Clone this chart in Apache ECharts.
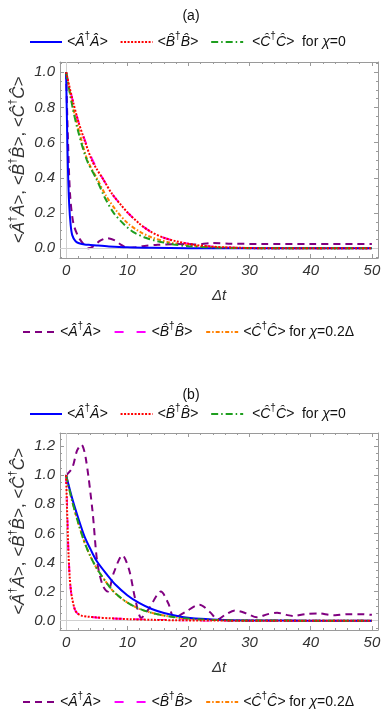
<!DOCTYPE html>
<html>
<head>
<meta charset="utf-8">
<script src="https://cdn.jsdelivr.net/npm/echarts@6/dist/echarts.min.js"></script>
<style>
  html, body { margin: 0; padding: 0; background: #fff; }
  #chart { width: 382px; height: 720px; }
</style>
</head>
<body>
<div id="chart"></div>
<script>
// ticks
const xMajor = [0, 10, 20, 30, 40, 50];
const xMinor = [2, 4, 6, 8, 12, 14, 16, 18, 22, 24, 26, 28, 32, 34, 36, 38, 42, 44, 46, 48];
const aYMajor = [0, 0.2, 0.4, 0.6, 0.8, 1.0];
const aYMinor = [-0.05, 0.05, 0.1, 0.15, 0.25, 0.3, 0.35, 0.45, 0.5, 0.55, 0.65, 0.7, 0.75, 0.85, 0.9, 0.95, 1.05];
const bYMajor = [0, 0.2, 0.4, 0.6, 0.8, 1.0, 1.2];
const bYMinor = [-0.05, 0.05, 0.1, 0.15, 0.25, 0.3, 0.35, 0.45, 0.5, 0.55, 0.65, 0.7, 0.75, 0.85, 0.9, 0.95, 1.05, 1.1, 1.15, 1.25];

// panel (a), chi = 0
const aA0 = [[0,1],[0.15,0.7],[0.3,0.45],[0.5,0.25],[0.75,0.13],[1,0.075],[1.5,0.042],[2,0.03],[3,0.022],[4,0.019],[5,0.016],[7,0.011],[10,0.006],[14,0.003],[20,0.001],[30,0],[50,0]];
const aB0 = [[0,1],[1,0.85],[2,0.72],[3,0.615],[4.2,0.5],[5,0.45],[6.1,0.39],[7.5,0.31],[9,0.245],[10,0.205],[12,0.14],[13.8,0.095],[16,0.06],[18,0.04],[21,0.02],[24,0.009],[28,0.003],[35,0],[50,0]];
const aC0 = [[0,1],[1,0.81],[2,0.66],[3.4,0.5],[5,0.39],[6.3,0.29],[7.8,0.2],[9.5,0.135],[11,0.092],[13,0.06],[15,0.04],[17.6,0.022],[20,0.012],[24,0.005],[30,0.001],[50,0]];
// panel (a), chi = 0.2 Delta
const aA2 = [[0,1],[0.3,0.62],[0.66,0.3],[1.2,0.14],[2,0.066],[3,0.018],[3.7,0],[4.5,0.012],[5.5,0.042],[6.7,0.058],[8,0.045],[9,0.02],[10,0.002],[11,0.004],[12.5,0.012],[15,0.02],[18,0.024],[21,0.022],[24,0.03],[27,0.026],[32,0.025],[40,0.025],[50,0.025]];
const aB2 = [[0,1],[1,0.85],[2,0.72],[3,0.62],[4.2,0.51],[5,0.455],[6.1,0.39],[7.5,0.31],[9,0.245],[10,0.205],[12,0.14],[13.8,0.095],[16,0.06],[18,0.04],[21,0.02],[24,0.009],[28,0.003],[35,0],[50,0]];
const aC2 = [[0,1],[1,0.82],[2,0.68],[3.5,0.5],[5,0.4],[6.5,0.3],[8.3,0.21],[10,0.145],[12,0.095],[14,0.062],[17,0.033],[20,0.017],[24,0.007],[30,0.002],[50,0]];

// panel (b), chi = 0
const bA0 = [[0,1],[1,0.84],[2.1,0.69],[3,0.58],[4,0.49],[5,0.41],[6.8,0.31],[8,0.25],[10,0.175],[12,0.12],[14,0.08],[16,0.053],[19,0.026],[22,0.013],[26,0.005],[30,0.002],[40,0],[50,0]];
const bB0 = [[0,1],[0.2,0.7],[0.4,0.45],[0.6,0.29],[0.8,0.2],[1,0.15],[1.4,0.08],[1.8,0.052],[2.5,0.035],[3.5,0.028],[5,0.022],[7,0.017],[10.6,0.01],[14,0.006],[18,0.003],[24,0.001],[30,0],[50,0]];
const bC0 = [[0,1],[1,0.82],[2,0.67],[3,0.54],[4,0.44],[5,0.36],[6.8,0.25],[8,0.19],[10,0.125],[12,0.082],[14,0.054],[16,0.035],[19,0.018],[22,0.009],[26,0.003],[30,0.001],[50,0]];
// panel (b), chi = 0.2 Delta
const bA2 = [[0,1],[1,1.05],[1.8,1.17],[2.5,1.21],[3.2,1.12],[4.3,0.76],[5.1,0.4],[6,0.24],[6.8,0.2],[7.8,0.33],[9.2,0.45],[10.3,0.35],[11.3,0.15],[12.3,0.02],[13.5,0.08],[15.5,0.2],[16.7,0.12],[17.7,0.02],[19.5,0.06],[21.8,0.11],[23.5,0.06],[24.8,0.01],[26,0.04],[27.6,0.07],[29.5,0.05],[31.2,0.023],[33,0.045],[34.5,0.055],[36,0.04],[37.2,0.032],[39,0.045],[41.3,0.05],[43,0.04],[44,0.037],[46,0.045],[48,0.045],[50,0.04]];
const bB2 = [[0,1],[0.2,0.7],[0.4,0.45],[0.6,0.29],[0.8,0.2],[1,0.15],[1.4,0.08],[1.8,0.052],[2.5,0.035],[3.5,0.028],[5,0.022],[7,0.017],[10.6,0.01],[14,0.006],[18,0.003],[24,0.001],[30,0],[50,0]];
const bC2 = [[0,1],[1,0.82],[2,0.67],[3,0.54],[4,0.44],[5,0.36],[6.8,0.25],[8,0.19],[10,0.125],[12,0.082],[14,0.054],[16,0.035],[19,0.018],[22,0.009],[26,0.003],[30,0.001],[50,0]];

const FONT = '"Liberation Sans", Arial, sans-serif';
const FRAME = '#9a9a9a';
const TXT = '#333';

const opA = '{op|<Â}{sup|†}{op|Â>}';
const opB = '{op|<B\u0302}{sup|†}{op|B\u0302>}';
const opC = '{op|<Ĉ}{sup|†}{op|Ĉ>}';
const labels = {
  aA0: opA, aB0: opB, aC0: ' ' + opC + '{rm|  for }{op|χ}{rm|=0}',
  aA2: opA, aB2: opB, aC2: opC + '{rm| for }{op|χ}{rm|=0.2Δ}',
  bA0: opA, bB0: opB, bC0: ' ' + opC + '{rm|  for }{op|χ}{rm|=0}',
  bA2: opA, bB2: opB, bC2: opC + '{rm| for }{op|χ}{rm|=0.2Δ}'
};

const richSmall = {
  op: { fontStyle: 'italic', fontSize: 14, fontFamily: FONT, color: '#111', lineHeight: 22 },
  sup: { fontSize: 10, fontFamily: FONT, color: '#111', lineHeight: 8, verticalAlign: 'top' },
  rm: { fontSize: 14, fontFamily: FONT, color: '#111', lineHeight: 22 }
};
const richName = {
  op: { fontStyle: 'italic', fontSize: 17, fontFamily: FONT, color: TXT, lineHeight: 24 },
  sup: { fontSize: 11, fontFamily: FONT, color: TXT, lineHeight: 9, verticalAlign: 'top' },
  rm: { fontSize: 17, fontFamily: FONT, color: TXT, lineHeight: 24 }
};

function xAxes(g) {
  const base = { gridIndex: g, type: 'value', min: -1, max: 51, splitLine: { show: false } };
  const major = { show: true, inside: true, length: 4, customValues: xMajor, lineStyle: { color: FRAME } };
  const minor = { show: true, inside: true, length: 2, customValues: xMinor, lineStyle: { color: FRAME } };
  return [
    Object.assign({}, base, {
      position: 'bottom',
      axisLine: { show: true, onZero: false, lineStyle: { color: FRAME } },
      axisTick: major,
      axisLabel: { show: true, customValues: xMajor, margin: 5, fontStyle: 'italic', fontSize: 15, fontFamily: FONT, color: TXT },
      name: 'Δt', nameLocation: 'middle', nameGap: 30, nameMoveOverlap: false,
      nameTextStyle: { fontStyle: 'italic', fontSize: 15, fontFamily: FONT, color: TXT }
    }),
    Object.assign({}, base, { position: 'bottom', axisLine: { show: false, onZero: false }, axisTick: minor, axisLabel: { show: false } }),
    Object.assign({}, base, { position: 'top', axisLine: { show: true, onZero: false, lineStyle: { color: FRAME } }, axisTick: major, axisLabel: { show: false } }),
    Object.assign({}, base, { position: 'top', axisLine: { show: false, onZero: false }, axisTick: minor, axisLabel: { show: false } })
  ];
}

function yAxes(g, yMin, yMax, yMajor, yMinor) {
  const base = { gridIndex: g, type: 'value', min: yMin, max: yMax, splitLine: { show: false } };
  const major = { show: true, inside: true, length: 4, customValues: yMajor, lineStyle: { color: FRAME } };
  const minor = { show: true, inside: true, length: 2, customValues: yMinor, lineStyle: { color: FRAME } };
  return [
    Object.assign({}, base, {
      position: 'left',
      axisLine: { show: true, onZero: false, lineStyle: { color: FRAME } },
      axisTick: major,
      axisLabel: { show: true, customValues: yMajor, margin: 5, fontStyle: 'italic', fontSize: 15, fontFamily: FONT, color: TXT,
        formatter: v => v.toFixed(1) },
      name: opA + '{rm|, }' + opB + '{rm|, }' + opC,
      nameLocation: 'middle', nameGap: 29, nameRotate: 90, nameMoveOverlap: false,
      nameTextStyle: { rich: richName }
    }),
    Object.assign({}, base, { position: 'left', axisLine: { show: false, onZero: false }, axisTick: minor, axisLabel: { show: false } }),
    Object.assign({}, base, { position: 'right', axisLine: { show: true, onZero: false, lineStyle: { color: FRAME } }, axisTick: major, axisLabel: { show: false } }),
    Object.assign({}, base, { position: 'right', axisLine: { show: false, onZero: false }, axisTick: minor, axisLabel: { show: false } })
  ];
}

function line(name, data, g, color, type, z) {
  return {
    name: name, type: 'line', xAxisIndex: g * 4, yAxisIndex: g * 4, data: data,
    symbol: 'none', smooth: 0.3, silent: true, z: z,
    lineStyle: { color: color, width: 2, type: type },
    itemStyle: { color: color }
  };
}

function zeroLines(g) {
  return {
    type: 'line', xAxisIndex: g * 4, yAxisIndex: g * 4, data: [[0, 0]], symbol: 'none', z: 1, silent: true,
    lineStyle: { width: 0 },
    markLine: { silent: true, symbol: 'none', animation: false, label: { show: false },
      lineStyle: { color: '#d0d0d0', width: 1, type: 'solid' },
      data: [{ yAxis: 0 }, { xAxis: 0 }] }
  };
}

function legend(names, left, top, gap) {
  return {
    data: names, left: left, top: top, orient: 'horizontal', selectedMode: false,
    padding: 0, itemWidth: 32, itemHeight: 14, itemGap: gap,
    itemStyle: { color: 'rgba(0,0,0,0)', opacity: 0, borderWidth: 0 },
    formatter: n => labels[n],
    textStyle: { fontFamily: FONT, fontSize: 14, color: '#111', rich: richSmall }
  };
}

const BLUE = '#0000ff', RED = '#ff0000', GREEN = '#1e9e1e', PURPLE = '#800080', MAGENTA = '#ff00ff', ORANGE = '#ff8000';
const dotted = [2, 1.5], dashDot = [7, 3, 1.5, 3], dashed = [7, 5], longDash = [9, 13], smallDashDot = [4, 2, 1.5, 2];

const chart = echarts.init(document.getElementById('chart'));
chart.setOption({
  animation: false,
  backgroundColor: '#fff',
  title: [
    { text: '(a)', left: 'center', top: 4, textStyle: { fontSize: 14, fontWeight: 'normal', fontFamily: FONT, color: '#111' } },
    { text: '(b)', left: 'center', top: 383, textStyle: { fontSize: 14, fontWeight: 'normal', fontFamily: FONT, color: '#111' } }
  ],
  legend: [
    legend(['aA0', 'aB0', 'aC0'], 29, 31, 12),
    legend(['aA2', 'aB2', 'aC2'], 22, 321, 13),
    legend(['bA0', 'bB0', 'bC0'], 29, 403, 12),
    legend(['bA2', 'bB2', 'bC2'], 22, 691, 13)
  ],
  grid: [
    { left: 60, top: 62, width: 318, height: 196, outerBoundsMode: 'none' },
    { left: 60, top: 433, width: 318, height: 197, outerBoundsMode: 'none' }
  ],
  xAxis: xAxes(0).concat(xAxes(1)),
  yAxis: yAxes(0, -0.055, 1.058, aYMajor, aYMinor).concat(yAxes(1, -0.064, 1.29, bYMajor, bYMinor)),
  series: [
    zeroLines(0),
    line('aB2', aB2, 0, MAGENTA, longDash, 3),
    line('aC2', aC2, 0, ORANGE, smallDashDot, 3),
    line('aA2', aA2, 0, PURPLE, dashed, 4),
    line('aA0', aA0, 0, BLUE, 'solid', 5),
    line('aC0', aC0, 0, GREEN, dashDot, 5),
    line('aB0', aB0, 0, RED, dotted, 6),
    zeroLines(1),
    line('bB2', bB2, 1, MAGENTA, longDash, 3),
    line('bC2', bC2, 1, ORANGE, smallDashDot, 3),
    line('bA2', bA2, 1, PURPLE, dashed, 4),
    line('bA0', bA0, 1, BLUE, 'solid', 5),
    line('bC0', bC0, 1, GREEN, dashDot, 5),
    line('bB0', bB0, 1, RED, dotted, 6)
  ]
});
</script>
</body>
</html>
